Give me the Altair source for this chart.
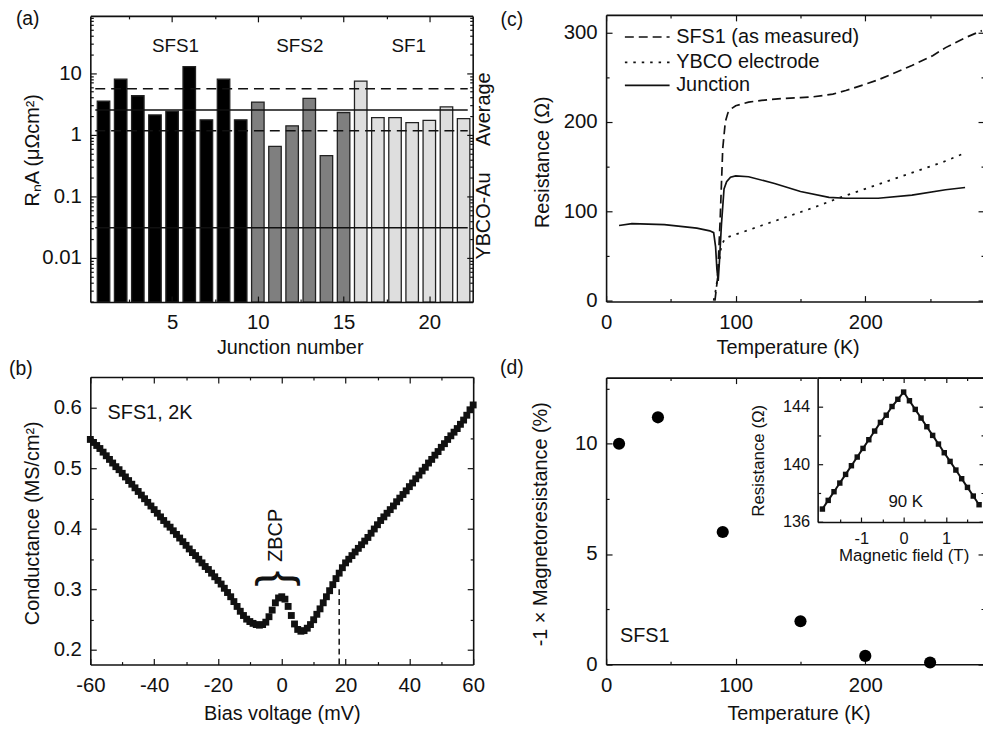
import altair as alt
import pandas as pd

W, H = 983, 722
FONT = "Liberation Sans"
INK = "#111111"

# ---------------- panel (a): RnA for each junction ----------------
junction = list(range(1, 23))
ra = [3.5, 8.0, 4.3, 2.1, 2.4, 12.8, 1.75, 8.0, 1.75,
      3.4, 0.65, 1.4, 3.9, 0.46, 2.3,
      7.4, 1.9, 1.9, 1.58, 1.72, 2.83, 1.83]
sample = ["SFS1"] * 9 + ["SFS2"] * 6 + ["SF1"] * 7
sample_names = ["SFS1", "SFS2", "SF1"]
sample_fill = ["#000000", "#7f7f7f", "#dedede"]
sample_label_x = [5.2, 12.45, 18.8]
sample_label_y = [28.0, 28.0, 28.0]
band_dashed = [5.6, 1.16]
band_solid = [2.53, 0.031]
side_labels = ["Average", "YBCO-Au"]
side_label_x = [23.2, 23.2]
side_label_y = [2.6, 0.048]
a_xdom = [0.52, 22.24]
a_ydom = [0.00193, 85.0]

# ---------------- panel (b): conductance vs bias ----------------
bias = list(range(-60, 61))
conductance = [
    0.548, 0.543, 0.538, 0.533, 0.527, 0.521, 0.515, 0.509, 0.503, 0.498,
    0.492, 0.486, 0.480, 0.474, 0.468, 0.462, 0.456, 0.450, 0.444, 0.438,
    0.432, 0.426, 0.420, 0.414, 0.408, 0.403, 0.397, 0.391, 0.385, 0.379,
    0.373, 0.367, 0.361, 0.356, 0.350, 0.344, 0.338, 0.333, 0.327, 0.321,
    0.315, 0.309, 0.302, 0.295, 0.288, 0.280, 0.272, 0.264, 0.257, 0.251,
    0.247, 0.244, 0.242, 0.241, 0.242, 0.246, 0.255, 0.266, 0.278, 0.286,
    0.288, 0.284, 0.272, 0.257, 0.243, 0.234, 0.231, 0.232, 0.236, 0.242,
    0.250, 0.259, 0.268, 0.278, 0.288, 0.298, 0.308, 0.318, 0.327, 0.336,
    0.344, 0.350, 0.356, 0.362, 0.368, 0.374, 0.380, 0.386, 0.393, 0.400,
    0.407, 0.414, 0.420, 0.426, 0.432, 0.438, 0.445, 0.451, 0.457, 0.463,
    0.470, 0.476, 0.483, 0.489, 0.496, 0.502, 0.509, 0.515, 0.522, 0.528,
    0.535, 0.541, 0.548, 0.554, 0.560, 0.566, 0.573, 0.580, 0.588, 0.597,
    0.605]
marker_bias = [18, 18]
marker_cond = [0.176, 0.305]
b_xdom = [-60.0, 60.0]
b_ydom = [0.1759, 0.6513]

# ---------------- panel (c): resistance vs temperature ----------------
sfs1_T = [84, 86, 88, 90, 92, 94, 97, 100, 110, 120, 135, 150, 160, 175, 185,
          200, 210, 220, 236, 252, 262, 277, 290]
sfs1_R = [0, 25, 90, 170, 200, 210, 215, 218, 222, 224, 226, 227, 228, 231, 235,
          242, 247, 253, 263, 274, 283, 294, 302]
ybco_T = [83, 85, 87, 89, 92, 100, 120, 140, 160, 180, 200, 220, 240, 260, 275]
ybco_R = [0, 15, 40, 62, 70, 74, 84, 94, 104, 115, 125, 135, 145, 155, 164]
junc_T = [10, 20, 45, 70, 80, 83, 84.5, 85.5, 86.5, 87.5, 89, 91, 93, 96, 100,
          110, 130, 150, 172, 185, 210, 236, 262, 277]
junc_R = [84, 86, 85, 81, 78, 76, 60, 35, 22, 45, 85, 125, 133, 138, 139.5,
          138.5, 131, 122, 115.5, 114.5, 114.5, 118, 124, 126.5]
legend_labels = ["SFS1 (as measured)", "YBCO electrode", "Junction"]
legend_y = [294.9, 266.5, 240.7]
legend_x = [14.5, 49.0, 54.1]
c_xdom = [0.0, 291.6]
c_ydom = [-1.1, 319.6]

# ---------------- panel (d): magnetoresistance ----------------
mr_T = [10, 40, 90, 150, 200, 250]
mr_val = [10.0, 11.2, 6.0, 1.95, 0.38, 0.08]
d_xdom = [0.0, 291.6]
d_ydom = [0.0, 13.0]

# inset: resistance vs magnetic field at 90 K
field_T = [-1.918, -1.781, -1.644, -1.507, -1.370, -1.233, -1.096, -0.959,
           -0.822, -0.685, -0.548, -0.411, -0.274, -0.137, 0.0,
           0.137, 0.274, 0.411, 0.548, 0.685, 0.822, 0.959, 1.096,
           1.233, 1.370, 1.507, 1.644, 1.781]
field_R = [136.9, 137.5, 138.1, 138.7, 139.3, 139.9, 140.5, 141.1,
           141.7, 142.3, 142.9, 143.4, 144.0, 144.5, 145.0,
           144.4, 143.8, 143.2, 142.6, 142.0, 141.4, 140.8, 140.2,
           139.6, 139.0, 138.4, 137.8, 137.2]
i_xdom = [-2.03, 1.897]
i_ydom = [136.0, 146.0]

# panel boxes in view pixels (xL, xR, yT, yB)
A_BOX = (83, 468.5, 5, 293.5)
B_BOX = (83, 469, 369, 659)
C_BOX = (603, 984, 4, 293)
D_BOX = (603, 984, 369.7, 658.7)
I_BOX = (816.3, 984, 369.7, 515.3)

# axis-title centres in view pixels: (x-title cx, cy), (y-title cx, cy)
A_TITLES = ((284, 339), (25, 140))
B_TITLES = ((276, 708.7), (25, 516))
C_TITLES = ((786, 339), (538.5, 152))
D_TITLES = ((797, 708.7), (537, 517))
I_TITLES = ((903, 549.5), (757, 453))

MINUS_FIX = "replace(datum.label, '\u2212', '-')"


def lin(dom, box, axis):
    xL, xR, yT, yB = box
    rng = [xL, xR] if axis == "x" else [yB, yT]
    return alt.Scale(domain=dom, range=rng, nice=False, zero=False)


def frame(df, xf, yf, xs, ys, box, titles, xmaj, xmin, ymaj, ymin, xfmt, yfmt,
          xtitle, ytitle, tmaj=6, tmin=3, fs=20.5, fst=20, xpad=11, ypad=9, z=1):
    xL, xR, yT, yB = box
    (xtx, xty), (ytx, yty) = titles
    common = dict(grid=False, zindex=z, tickColor=INK, tickWidth=1.2,
                  domainColor=INK, domainWidth=1.6, labelFlush=False,
                  labelOverlap=False)

    def L(xa, ya):
        return alt.Chart(df).mark_point(opacity=0).encode(
            x=alt.X(f"{xf}:Q", scale=xs, axis=xa),
            y=alt.Y(f"{yf}:Q", scale=ys, axis=ya))

    def ticks(orient, vals, size, offset):
        return alt.Axis(orient=orient, values=vals, tickSize=size,
                        offset=offset, domain=False, labels=False,
                        title=None, **common)

    def edge(orient, offset):
        return alt.Axis(orient=orient, offset=offset, domain=True,
                        ticks=False, labels=False, title=None, **common)

    lab = dict(labels=True, domain=False, labelFont=FONT, labelFontSize=fs,
               labelColor=INK, labelExpr=MINUS_FIX, titleFont=FONT,
               titleFontSize=fst, titleFontWeight="normal", titleColor=INK,
               titleBaseline="middle", titleAlign="center", **common)
    xa = alt.Axis(orient="bottom", values=xmaj, tickSize=tmaj,
                  offset=yB - tmaj - H, format=xfmt, title=xtitle,
                  labelPadding=xpad, titleX=xtx, titleY=xty - (yB - tmaj), **lab)
    ya = alt.Axis(orient="left", values=ymaj, tickSize=tmaj,
                  offset=-(xL + tmaj), format=yfmt, title=ytitle,
                  labelPadding=ypad, titleX=ytx - (xL + tmaj), titleY=yty, **lab)
    return [
        L(xa, ya),
        L(ticks("bottom", xmin, tmin, yB - tmin - H),
          ticks("left", ymin, tmin, -(xL + tmin))),
        L(ticks("top", xmaj, tmaj, -(yT + tmaj)),
          ticks("right", ymaj, tmaj, xR - tmaj - W)),
        L(ticks("top", xmin, tmin, -(yT + tmin)),
          ticks("right", ymin, tmin, xR - tmin - W)),
        L(edge("bottom", yB - H), edge("left", -xL)),
        L(edge("top", -yT), edge("right", xR - W)),
    ]


def txt(df, xs, ys, size=19, **kw):
    return alt.Chart(df).mark_text(font=FONT, fontSize=size, color=INK, **kw).encode(
        x=alt.X("x:Q", scale=xs, axis=None),
        y=alt.Y("y:Q", scale=ys, axis=None),
        text="t:N")


# ================= panel (a) =================
axs = lin(a_xdom, A_BOX, "x")
ays = alt.Scale(type="log", domain=a_ydom, range=[A_BOX[3], A_BOX[2]], nice=False)
df_a = pd.DataFrame({"junction": junction, "ra": ra, "sample": sample,
                     "base": [a_ydom[0]] * len(junction)})
bars = alt.Chart(df_a).mark_bar(width=12.6, stroke="#222222", strokeWidth=1.3).encode(
    x=alt.X("junction:Q", scale=axs, axis=None),
    y=alt.Y("ra:Q", scale=ays, axis=None),
    y2="base:Q",
    fill=alt.Fill("sample:N", scale=alt.Scale(domain=sample_names, range=sample_fill), legend=None))
df_dash = pd.DataFrame({"y": band_dashed, "x0": [a_xdom[0]] * 2, "x1": [a_xdom[1]] * 2})
df_sol = pd.DataFrame({"y": band_solid, "x0": [a_xdom[0]] * 2, "x1": [a_xdom[1]] * 2})


def hrule(df, **kw):
    return alt.Chart(df).mark_rule(color=INK, strokeWidth=1.5, **kw).encode(
        x=alt.X("x0:Q", scale=axs, axis=None), x2="x1:Q",
        y=alt.Y("y:Q", scale=ays, axis=None))


a_minor_y = [m * 10.0 ** e for e in (-3, -2, -1, 0, 1) for m in range(2, 10)]
a_minor_y = [v for v in a_minor_y if a_ydom[0] < v < a_ydom[1]]
layers_a = frame(df_a, "junction", "ra", axs, ays, A_BOX, A_TITLES,
                 [5, 10, 15, 20], [2.5, 7.5, 12.5, 17.5],
                 [0.01, 0.1, 1, 10], a_minor_y, "d", "~g",
                 "Junction number", "RₙA (μΩcm²)", tmaj=6, tmin=3)
layers_a += [
    bars,
    hrule(df_dash, strokeDash=[10, 6]),
    hrule(df_sol),
    txt(pd.DataFrame({"x": sample_label_x, "y": sample_label_y, "t": sample_names}),
        axs, ays, baseline="middle"),
    txt(pd.DataFrame({"x": side_label_x, "y": side_label_y, "t": side_labels}),
        axs, ays, size=20, angle=270, baseline="middle"),
    txt(pd.DataFrame({"x": [-3.42], "y": [a_ydom[1] * 1.22], "t": ["(a)"]}), axs, ays,
        size=19.5, baseline="top"),
]
panel_a = alt.layer(*layers_a).resolve_axis(x="independent", y="independent")

# ================= panel (b) =================
bxs = lin(b_xdom, B_BOX, "x")
bys = lin(b_ydom, B_BOX, "y")
df_b = pd.DataFrame({"bias": bias, "g": conductance})
layers_b = frame(df_b, "bias", "g", bxs, bys, B_BOX, B_TITLES,
                 [-60, -40, -20, 0, 20, 40, 60], [-50, -30, -10, 10, 30, 50],
                 [0.2, 0.3, 0.4, 0.5, 0.6], [0.25, 0.35, 0.45, 0.55], "d", ".1f",
                 "Bias voltage (mV)", "Conductance (MS/cm²)", tmaj=6, tmin=3)
layers_b += [
    alt.Chart(df_b).mark_square(size=48, color=INK, opacity=1).encode(
        x=alt.X("bias:Q", scale=bxs, axis=None),
        y=alt.Y("g:Q", scale=bys, axis=None)),
    alt.Chart(pd.DataFrame({"x": marker_bias, "y": marker_cond})).mark_line(
        color=INK, strokeWidth=1.5, strokeDash=[6, 4]).encode(
        x=alt.X("x:Q", scale=bxs, axis=None), y=alt.Y("y:Q", scale=bys, axis=None)),
    txt(pd.DataFrame({"x": [-54.6], "y": [0.592], "t": ["SFS1, 2K"]}), bxs, bys,
        size=20, align="left", baseline="middle"),
    txt(pd.DataFrame({"x": [-1.8], "y": [0.3895], "t": ["ZBCP"]}), bxs, bys,
        size=20, angle=270, baseline="middle"),
    txt(pd.DataFrame({"x": [-0.8], "y": [0.318], "t": ["{"]}), bxs, bys,
        size=48, angle=90, baseline="middle"),
    txt(pd.DataFrame({"x": [-81.8], "y": [0.6644], "t": ["(b)"]}), bxs, bys,
        size=19.5, baseline="middle"),
]
panel_b = alt.layer(*layers_b).resolve_axis(x="independent", y="independent")

# ================= panel (c) =================
cxs = lin(c_xdom, C_BOX, "x")
cys = lin(c_ydom, C_BOX, "y")
df_s = pd.DataFrame({"T": sfs1_T, "R": sfs1_R})
df_y = pd.DataFrame({"T": ybco_T, "R": ybco_R})
df_j = pd.DataFrame({"T": junc_T, "R": junc_R})


def curve(df, dash):
    kw = dict(color=INK, strokeWidth=1.7)
    if dash:
        kw["strokeDash"] = dash
    return alt.Chart(df).mark_line(**kw).encode(
        x=alt.X("T:Q", scale=cxs, axis=None), y=alt.Y("R:Q", scale=cys, axis=None),
        order="T:Q")


dashes = [[9, 5], [2.5, 6], None]
layers_c = frame(df_j, "T", "R", cxs, cys, C_BOX, C_TITLES,
                 [0, 100, 200], [50, 150, 250], [0, 100, 200, 300], [50, 150, 250],
                 "d", "d", "Temperature (K)", "Resistance (Ω)", tmaj=6, tmin=3)
layers_c += [curve(df_s, dashes[0]), curve(df_y, dashes[1]), curve(df_j, dashes[2])]
for lab, ly, dsh in zip(legend_labels, legend_y, dashes):
    kw = dict(color=INK, strokeWidth=1.7)
    if dsh:
        kw["strokeDash"] = dsh
    layers_c.append(
        alt.Chart(pd.DataFrame({"x0": [legend_x[0]], "x1": [legend_x[1]], "y": [ly]}))
        .mark_rule(**kw).encode(x=alt.X("x0:Q", scale=cxs, axis=None), x2="x1:Q",
                                y=alt.Y("y:Q", scale=cys, axis=None)))
layers_c.append(txt(pd.DataFrame({"x": [legend_x[2]] * 3, "y": legend_y, "t": legend_labels}),
                    cxs, cys, size=20, align="left", baseline="middle"))
layers_c.append(txt(pd.DataFrame({"x": [-72.7], "y": [c_ydom[1] + 4], "t": ["(c)"]}), cxs, cys,
                    size=19.5, baseline="top"))
panel_c = alt.layer(*layers_c).resolve_axis(x="independent", y="independent")

# ================= panel (d) =================
dxs = lin(d_xdom, D_BOX, "x")
dys = lin(d_ydom, D_BOX, "y")
df_d = pd.DataFrame({"T": mr_T, "mr": mr_val})
layers_d = frame(df_d, "T", "mr", dxs, dys, D_BOX, D_TITLES,
                 [0, 100, 200], [50, 150, 250], [0, 5, 10], [2.5, 7.5, 12.5],
                 "d", "d", "Temperature (K)", "-1 × Magnetoresistance (%)",
                 tmaj=6, tmin=3, z=0)
layers_d += [
    alt.Chart(df_d).mark_circle(size=150, color="#000000", opacity=1).encode(
        x=alt.X("T:Q", scale=dxs, axis=None), y=alt.Y("mr:Q", scale=dys, axis=None)),
    txt(pd.DataFrame({"x": [10.7], "y": [1.27], "t": ["SFS1"]}), dxs, dys,
        size=20, align="left", baseline="middle"),
    txt(pd.DataFrame({"x": [-72.7], "y": [13.43], "t": ["(d)"]}), dxs, dys,
        size=19.5, baseline="middle"),
]
panel_d = alt.layer(*layers_d).resolve_axis(x="independent", y="independent")

# ================= inset =================
ixs = lin(i_xdom, I_BOX, "x")
iys = lin(i_ydom, I_BOX, "y")
df_i = pd.DataFrame({"B": field_T, "R": field_R})
bg = alt.Chart(pd.DataFrame({"x0": [i_xdom[0]], "x1": [i_xdom[1]],
                             "y0": [i_ydom[0]], "y1": [i_ydom[1]]})).mark_rect(
    fill="white").encode(x=alt.X("x0:Q", scale=ixs, axis=None), x2="x1:Q",
                         y=alt.Y("y0:Q", scale=iys, axis=None), y2="y1:Q")
layers_i = [bg] + frame(df_i, "B", "R", ixs, iys, I_BOX, I_TITLES,
                        [-1, 0, 1], [-1.5, -0.5, 0.5, 1.5], [136, 140, 144], [138, 142, 146],
                        "d", "d", "Magnetic field (T)", "Resistance (Ω)",
                        tmaj=5, tmin=3, fs=16.5, fst=17, xpad=9, ypad=8, z=1)
layers_i += [
    alt.Chart(df_i).mark_line(color=INK, strokeWidth=2).encode(
        x=alt.X("B:Q", scale=ixs, axis=None), y=alt.Y("R:Q", scale=iys, axis=None)),
    alt.Chart(df_i).mark_square(size=30, color=INK, opacity=1).encode(
        x=alt.X("B:Q", scale=ixs, axis=None), y=alt.Y("R:Q", scale=iys, axis=None)),
    txt(pd.DataFrame({"x": [0.05], "y": [137.4], "t": ["90 K"]}), ixs, iys,
        size=17, baseline="middle"),
]
inset = alt.layer(*layers_i).resolve_axis(x="independent", y="independent")

chart = alt.layer(panel_a, panel_b, panel_c, panel_d, inset).resolve_scale(
    x="independent", y="independent", fill="independent").properties(
    width=W, height=H, autosize=alt.AutoSizeParams(type="none"), padding=0,
    background="white").configure_view(strokeWidth=0)

chart.save("out.html", embed_options={"renderer": "svg", "actions": False})
